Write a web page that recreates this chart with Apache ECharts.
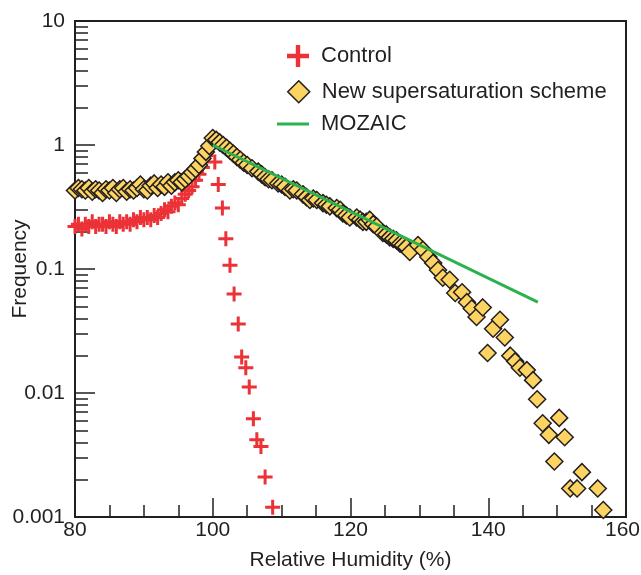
<!DOCTYPE html>
<html>
<head>
    <meta charset="utf-8">
    <title>Frequency vs RH</title>
    <script src="https://cdn.jsdelivr.net/npm/echarts@6/dist/echarts.min.js"></script>
    <style>
        body { margin: 0; background: #fff; }
        #main { width: 641px; height: 575px; }
    </style>
</head>
<body>
<div id="main"></div>
<script type="text/javascript">
    // Control run (red crosses)
    const controlRH = [80, 80.5, 81, 81.5, 82, 82.5, 83, 83.5, 84, 84.5, 85, 85.5, 86, 86.5, 87, 87.5, 88, 88.5, 89, 89.5,
        90, 90.5, 91, 91.5, 92, 92.5, 93, 93.5, 94, 94.5, 95, 95.5, 96, 96.5, 97, 97.5, 98, 98.5, 99, 99.5,
        100.3, 100.8, 101.4, 101.9, 102.5, 103.1, 103.7, 104.2, 104.8, 105.3, 105.9, 106.4, 107, 107.6, 108.7]
    const controlFreq = [0.22, 0.23, 0.21, 0.23, 0.22, 0.24, 0.22, 0.23, 0.23, 0.22, 0.24, 0.23, 0.22, 0.24, 0.23, 0.24, 0.23, 0.25, 0.24, 0.26,
        0.25, 0.26, 0.25, 0.27, 0.26, 0.28, 0.30, 0.29, 0.32, 0.34, 0.33, 0.37, 0.40, 0.43, 0.46, 0.52, 0.58, 0.66, 0.82, 1.0,
        0.73, 0.48, 0.31, 0.175, 0.107, 0.063, 0.036, 0.0195, 0.016, 0.0112, 0.0062, 0.0042, 0.0037, 0.0021, 0.0012]

    // new supersaturation scheme (yellow diamonds)
    const schemeRH = [80, 80.5, 81, 81.5, 82, 82.5, 83, 83.5, 84, 84.5, 85, 85.5, 86, 86.5, 87, 87.5, 88, 88.5, 89, 89.5,
        90, 90.5, 91, 91.5, 92, 92.5, 93, 93.5, 94, 94.5, 95, 95.5, 96, 96.5, 97, 97.5, 98, 98.5, 99, 99.5, 100,
        100.5, 101, 101.5, 102, 102.5, 103, 103.5, 104, 104.5, 105, 105.7, 106.6, 107.1, 107.6, 108.1, 108.6, 109.5, 110, 110.5,
        111.2, 111.7, 112.2, 113.1, 113.6, 114.1, 114.6, 115.1, 116, 116.5, 117, 118, 118.5, 118.9, 119.4, 119.9, 120.9, 121.4, 121.8, 122.3,
        122.8, 123.3, 123.8, 124.7, 125.2, 125.7, 126.2, 126.7, 127.2, 127.6, 128.1, 128.6, 129.8, 130.5, 131.3, 132, 132.7, 133.4, 134.4, 135.2,
        136.2, 136.9, 137.6, 138.3, 139.2, 139.9, 140.7, 141.7, 142.4, 143.2, 143.9, 144.6, 145.6, 146.5, 147.1, 147.9, 148.8, 149.6, 150.3, 151.1,
        151.9, 152.9, 153.6, 155.9, 156.7]
    const schemeFreq = [0.43, 0.45, 0.44, 0.43, 0.45, 0.42, 0.44, 0.43, 0.41, 0.44, 0.43, 0.45, 0.41, 0.44, 0.45, 0.42, 0.44, 0.43, 0.45, 0.48,
        0.44, 0.43, 0.47, 0.49, 0.45, 0.48, 0.46, 0.50, 0.47, 0.50, 0.52, 0.50, 0.53, 0.56, 0.60, 0.64, 0.69, 0.78, 0.88, 0.98, 1.14,
        1.10, 1.05, 1.0, 0.95, 0.90, 0.85, 0.80, 0.76, 0.72, 0.69, 0.65, 0.61, 0.58, 0.55, 0.53, 0.52, 0.49, 0.48, 0.46,
        0.43, 0.44, 0.43, 0.40, 0.38, 0.36, 0.37, 0.36, 0.34, 0.33, 0.32, 0.31, 0.30, 0.28, 0.27, 0.26, 0.26, 0.25, 0.24, 0.24,
        0.25, 0.23, 0.22, 0.195, 0.19, 0.18, 0.175, 0.17, 0.16, 0.156, 0.15, 0.137, 0.156, 0.143, 0.125, 0.112, 0.098, 0.085, 0.082, 0.064,
        0.065, 0.054, 0.048, 0.041, 0.049, 0.021, 0.033, 0.039, 0.028, 0.020, 0.018, 0.016, 0.0153, 0.0127, 0.0089, 0.0057, 0.0046, 0.0028, 0.0063, 0.0044,
        0.0017, 0.0017, 0.0023, 0.0017, 0.00114]

    // MOZAIC fit (green line)
    const mozaicRH = [100, 147.2]
    const mozaicFreq = [1.0, 0.054]

    const xTicks = [80, 100, 120, 140, 160]
    const yMinorTicks = []
    for (const d of [0.001, 0.01, 0.1, 1]) {
        for (let k = 2; k <= 9; k++) yMinorTicks.push(+(k * d).toPrecision(3))
    }

    const ink = '#231f20'
    const font = 'Liberation Sans, Arial, Helvetica, sans-serif'
    const crossPath = 'path://M4,0H6V4H10V6H6V10H4V6H0V4H4Z'
    const diamondPath = 'path://M5,0L10,5L5,10L0,5Z'

    function zip(a, b) {
        return a.map(function (v, i) { return [v, b[i]] })
    }

    var myChart = echarts.init(document.getElementById('main'), null, {renderer: 'canvas'})

    var option = {
        animation: false,
        grid: {
            left: 75, right: 15, top: 21, bottom: 58,
            show: true, borderColor: ink, borderWidth: 2,
            containLabel: false, outerBoundsMode: 'none'
        },
        legend: [
            {
                data: [{name: 'Control', icon: crossPath}],
                left: 287, top: 45, padding: 0, selectedMode: false,
                itemWidth: 22, itemHeight: 22,
                textStyle: {fontSize: 22, color: ink, fontFamily: font, padding: [0, 0, 0, 7]}
            },
            {
                data: [{name: 'New supersaturation scheme', icon: diamondPath,
                    itemStyle: {color: '#fdd361', borderColor: ink, borderWidth: 1.5}}],
                left: 287, top: 80, padding: 0, selectedMode: false,
                itemWidth: 22, itemHeight: 22,
                textStyle: {fontSize: 22, color: ink, fontFamily: font, padding: [0, 0, 0, 7]}
            },
            {
                data: [{name: 'MOZAIC', icon: 'rect', itemStyle: {color: '#2bb24c'}}],
                left: 277, top: 113, padding: 0, selectedMode: false,
                itemWidth: 32, itemHeight: 3,
                textStyle: {fontSize: 22, color: ink, fontFamily: font, padding: [0, 0, 0, 7]}
            }
        ],
        xAxis: {
            type: 'value',
            min: xTicks[0], max: xTicks[xTicks.length - 1], interval: 20,
            name: 'Relative Humidity (%)',
            nameLocation: 'middle', nameGap: 33, nameMoveOverlap: false,
            nameTextStyle: {fontSize: 21, color: ink, fontFamily: font},
            axisLine: {lineStyle: {color: ink, width: 2}},
            axisTick: {inside: true, length: 19, lineStyle: {color: ink, width: 1.5}},
            minorTick: {show: true, splitNumber: 4, length: 12, lineStyle: {color: ink, width: 1.5}},
            axisLabel: {
                fontSize: 21, color: ink, fontFamily: font, margin: 3,
                // last label is nudged left so it stays inside the canvas
                formatter: function (v) { return v === 160 ? '{r|' + v + '}' : String(v) },
                rich: {r: {fontSize: 21, color: ink, fontFamily: font, padding: [0, 7, 0, 0]}}
            },
            splitLine: {show: false}
        },
        yAxis: [
            {
                type: 'log', logBase: 10, min: 0.001, max: 10,
                name: 'Frequency',
                nameLocation: 'middle', nameGap: 44, nameMoveOverlap: false,
                nameTextStyle: {fontSize: 21, color: ink, fontFamily: font},
                axisLine: {show: true, lineStyle: {color: ink, width: 2}},
                axisTick: {inside: true, length: 20, lineStyle: {color: ink, width: 1.5}},
                axisLabel: {
                    fontSize: 21, color: ink, fontFamily: font, margin: 10,
                    formatter: function (v) { return String(+(+v).toPrecision(3)) }
                },
                splitLine: {show: false}
            },
            {
                // minor log ticks 2..9 of each decade
                type: 'log', logBase: 10, min: 0.001, max: 10, position: 'left',
                axisLine: {show: false},
                axisTick: {show: true, inside: true, length: 13, customValues: yMinorTicks,
                    lineStyle: {color: ink, width: 1.5}},
                axisLabel: {show: false},
                splitLine: {show: false}
            }
        ],
        series: [
            {
                name: 'Control',
                type: 'scatter',
                data: zip(controlRH, controlFreq),
                symbol: crossPath,
                symbolSize: 15,
                itemStyle: {color: '#ec3237', opacity: 1}
            },
            {
                name: 'New supersaturation scheme',
                type: 'scatter',
                data: zip(schemeRH, schemeFreq),
                symbol: 'diamond',
                symbolSize: 17,
                itemStyle: {color: '#fdd361', borderColor: ink, borderWidth: 1.5, opacity: 1}
            },
            {
                name: 'MOZAIC',
                type: 'line',
                data: zip(mozaicRH, mozaicFreq),
                symbol: 'none',
                lineStyle: {color: '#2bb24c', width: 3},
                itemStyle: {color: '#2bb24c'}
            }
        ]
    }

    myChart.setOption(option)
</script>
</body>
</html>
